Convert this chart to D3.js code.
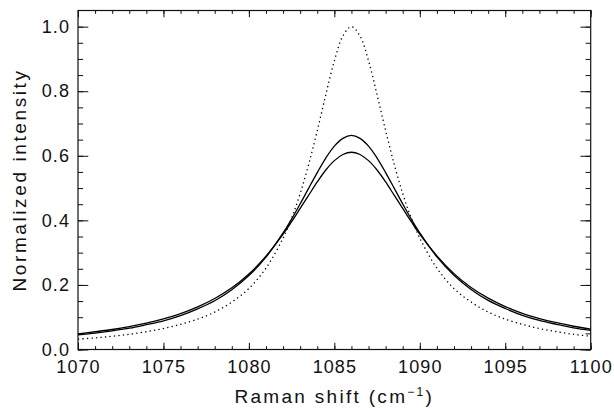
<!DOCTYPE html>
<html>
<head>
<meta charset="utf-8">
<script src="https://cdn.jsdelivr.net/npm/d3@7"></script>
<style>
  html, body { margin: 0; padding: 0; background: #fff; }
  svg { display: block; }
  text { font-family: "Liberation Sans", Arial, sans-serif; fill: #111; }
</style>
</head>
<body>
<svg id="chart" width="614" height="408"></svg>
<script>
// ---- data ----
const ramanShift = [1070,1071,1072,1073,1074,1075,1076,1077,1078,1079,1080,1081,
  1082,1082.5,1083,1083.5,1084,1084.5,1085,1085.5,1086,1086.5,1087,1087.5,1088,1088.5,1089,1089.5,1090,
  1091,1092,1093,1094,1095,1096,1097,1098,1099,1100];

const dottedIntensity = [0.032,0.036,0.041,0.047,0.055,0.065,0.078,0.094,0.116,0.147,0.189,0.252,
  0.345,0.407,0.483,0.574,0.678,0.789,0.894,0.971,1.000,0.971,0.894,0.789,0.678,0.574,0.483,0.407,0.345,
  0.252,0.189,0.147,0.116,0.094,0.078,0.065,0.055,0.047,0.041];

const solidIntensityA = [0.045,0.051,0.058,0.066,0.077,0.089,0.105,0.126,0.151,0.185,0.229,0.286,
  0.361,0.404,0.451,0.500,0.548,0.593,0.630,0.654,0.663,0.654,0.630,0.593,0.548,0.500,0.451,0.404,0.361,
  0.287,0.230,0.186,0.152,0.127,0.106,0.090,0.078,0.067,0.059];

const solidIntensityB = [0.048,0.055,0.062,0.071,0.082,0.095,0.111,0.132,0.158,0.191,0.234,0.289,
  0.357,0.396,0.437,0.478,0.519,0.556,0.585,0.604,0.611,0.604,0.585,0.556,0.519,0.478,0.437,0.396,0.357,
  0.290,0.235,0.192,0.159,0.133,0.112,0.096,0.083,0.072,0.063];

const xMajorTicks = [1070,1075,1080,1085,1090,1095,1100];
const xMinorTicks = d3.range(1070, 1100.5, 1);
const yMajorTicks = [0.0,0.2,0.4,0.6,0.8,1.0];
const yMinorTicks = [0,0.05,0.1,0.15,0.2,0.25,0.3,0.35,0.4,0.45,0.5,0.55,0.6,0.65,0.7,0.75,0.8,0.85,0.9,0.95,1.0];
const xDomain = [1070, 1100];
const yDomain = [0, 1.05];
const xTitle = "Raman shift (cm";
const yTitle = "Normalized intensity";

// ---- layout ----
const W = 614, H = 408;
const m = { left: 78, right: 23.3, top: 10.5, bottom: 58.5 };
const pw = W - m.left - m.right, ph = H - m.top - m.bottom;

const svg = d3.select("#chart");
const g = svg.append("g").attr("transform", `translate(${m.left},${m.top})`);

const x = d3.scaleLinear().domain(xDomain).range([0, pw]);
const y = d3.scaleLinear().domain(yDomain).range([ph, 0]);

const xMaj = 0.02 * ph, xMin = 0.01 * ph;
const yMaj = 0.02 * pw, yMin = 0.01 * pw;

function styleAxis(sel) {
  sel.selectAll(".domain").remove();
  sel.selectAll(".tick line").attr("stroke", "#111").attr("stroke-width", 1);
  sel.selectAll("text").attr("font-size", 18).attr("letter-spacing", "1.1px")
     .attr("font-family", "'Liberation Sans', Arial, sans-serif").attr("fill", "#1a1a1a");
}

// bottom
g.append("g").attr("transform", `translate(0,${ph})`)
  .call(d3.axisBottom(x).tickValues(xMinorTicks).tickSize(-xMin).tickFormat(""))
  .call(styleAxis);
g.append("g").attr("transform", `translate(0,${ph})`)
  .call(d3.axisBottom(x).tickValues(xMajorTicks).tickSize(-xMaj).tickPadding(11).tickFormat(d3.format("d")))
  .call(styleAxis);
// top
g.append("g")
  .call(d3.axisTop(x).tickValues(xMinorTicks).tickSize(-xMin).tickFormat(""))
  .call(styleAxis);
g.append("g")
  .call(d3.axisTop(x).tickValues(xMajorTicks).tickSize(-xMaj).tickFormat(""))
  .call(styleAxis);
// left
g.append("g")
  .call(d3.axisLeft(y).tickValues(yMinorTicks).tickSize(-yMin).tickFormat(""))
  .call(styleAxis);
g.append("g")
  .call(d3.axisLeft(y).tickValues(yMajorTicks).tickSize(-yMaj).tickPadding(8).tickFormat(d3.format(".1f")))
  .call(styleAxis);
// right
g.append("g").attr("transform", `translate(${pw},0)`)
  .call(d3.axisRight(y).tickValues(yMinorTicks).tickSize(-yMin).tickFormat(""))
  .call(styleAxis);
g.append("g").attr("transform", `translate(${pw},0)`)
  .call(d3.axisRight(y).tickValues(yMajorTicks).tickSize(-yMaj).tickFormat(""))
  .call(styleAxis);

// frame
g.append("rect").attr("x", 0).attr("y", 0).attr("width", pw).attr("height", ph)
  .attr("fill", "none").attr("stroke", "#111").attr("stroke-width", 1.2);

// curves
const line = (vals) => d3.line()
  .x((d, i) => x(ramanShift[i]))
  .y(d => y(d))
  .curve(d3.curveCatmullRom)(vals);

g.append("path").attr("d", line(dottedIntensity))
  .attr("fill", "none").attr("stroke", "#000").attr("stroke-width", 1.3)
  .attr("stroke-dasharray", "1.3,3.2");
g.append("path").attr("d", line(solidIntensityA))
  .attr("fill", "none").attr("stroke", "#000").attr("stroke-width", 1.3);
g.append("path").attr("d", line(solidIntensityB))
  .attr("fill", "none").attr("stroke", "#000").attr("stroke-width", 1.3);

// titles
const xt = svg.append("text")
  .attr("x", m.left + pw / 2).attr("y", 403)
  .attr("text-anchor", "middle").attr("font-size", 19).attr("letter-spacing", "2.3px")
  .attr("fill", "#1a1a1a");
xt.append("tspan").text(xTitle);
xt.append("tspan").attr("font-size", 12).attr("dy", -7).text("−1");
xt.append("tspan").attr("dy", 7).text(")");

svg.append("text")
  .attr("transform", `translate(26,${m.top + ph / 2}) rotate(-90)`)
  .attr("text-anchor", "middle").attr("font-size", 19).attr("letter-spacing", "2.6px")
  .attr("fill", "#1a1a1a")
  .text(yTitle);
</script>
</body>
</html>
